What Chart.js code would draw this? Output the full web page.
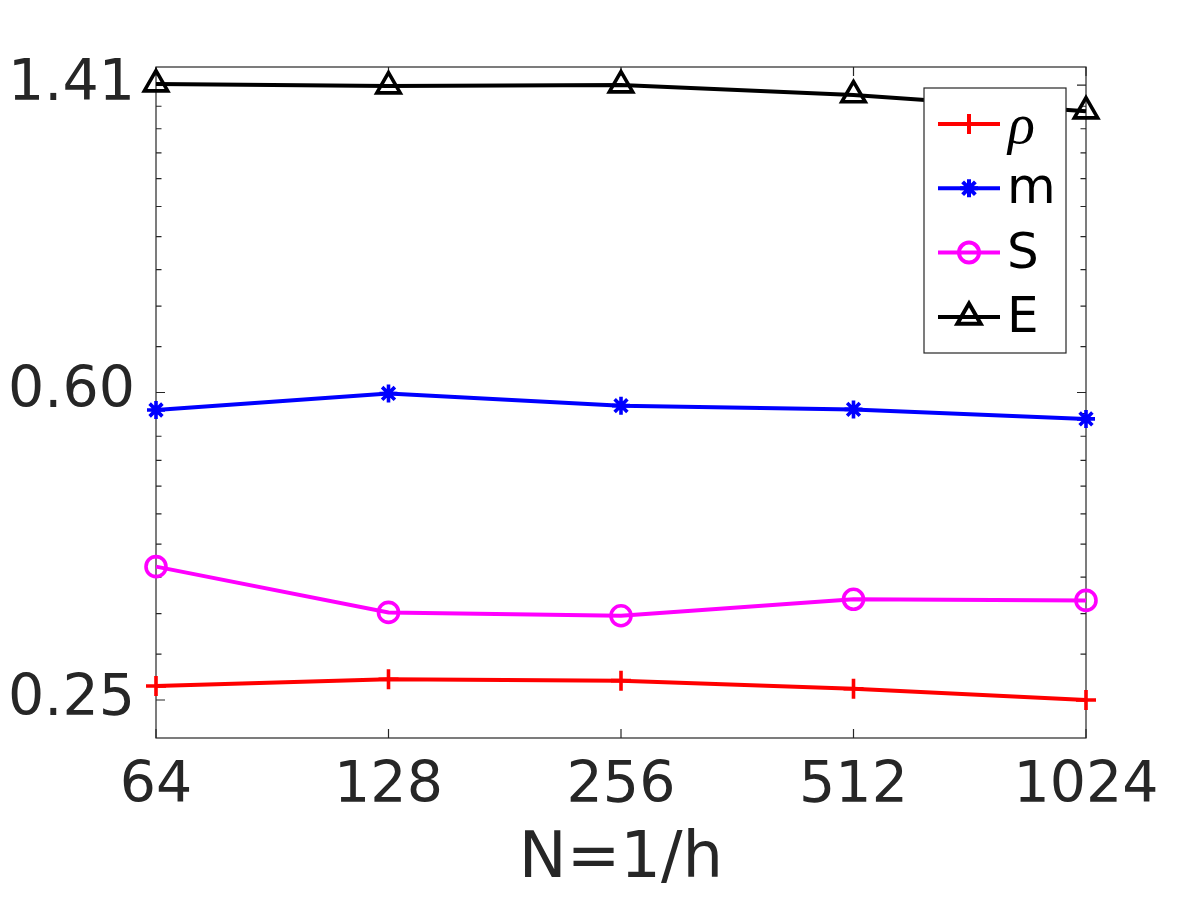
<!DOCTYPE html>
<html>
<head>
<meta charset="utf-8">
<script src="https://cdn.jsdelivr.net/npm/chart.js@4.4.1/dist/chart.umd.min.js"></script>
<style>
  html, body { margin: 0; padding: 0; background: #fff; }
  #wrap { width: 1200px; height: 900px; }
</style>
</head>
<body>
<div id="wrap"><canvas id="myChart" width="1200" height="900"></canvas></div>
<script>
// Grid sizes N = 1/h
const nValues = [64, 128, 256, 512, 1024];
const xTickLabels = ["64", "128", "256", "512", "1024"];

// Values (log-log plot)
const rhoValues = [0.260, 0.265, 0.264, 0.258, 0.250];
const mValues = [0.566, 0.593, 0.573, 0.567, 0.552];
const sValues = [0.364, 0.320, 0.317, 0.332, 0.331];
const eValues = [1.418, 1.410, 1.414, 1.375, 1.314];

// Y tick positions and their printed labels
const yTickValues = [0.25, 0.5946, 1.4142];
const yTickLabels = ["0.25", "0.60", "1.41"];

const seriesNames = ["ρ", "m", "S", "E"];
const seriesColors = ["#ff0000", "#0000ff", "#ff00ff", "#000000"];
const seriesMarkers = ["cross", "star", "circle", "triangle"];
const markerSizes = [10, 9, 10, 13.5];

const axisColor = "#262626";
const font = '"DejaVu Sans", "Liberation Sans", sans-serif';

function toPoints(values) {
    return nValues.map((n, i) => ({ x: n, y: values[i] }));
}

function makeDataset(index, values) {
    return {
        label: seriesNames[index],
        data: toPoints(values),
        borderColor: seriesColors[index],
        borderWidth: 4,
        tension: 0,
        fill: false,
        clip: false,
        pointStyle: seriesMarkers[index],
        pointRadius: markerSizes[index],
        pointHoverRadius: markerSizes[index],
        pointBorderWidth: 3.6,
        pointBorderColor: seriesColors[index],
        pointBackgroundColor: "rgba(0,0,0,0)"
    };
}

// Box and inward ticks, drawn under the data like MATLAB does
const axesBoxPlugin = {
    id: "axesBox",
    beforeDatasetsDraw(chart) {
        const { ctx, chartArea: a, scales } = chart;
        const xs = scales.x, ys = scales.y;
        ctx.save();
        ctx.strokeStyle = axisColor;
        ctx.lineWidth = 1.2;
        ctx.strokeRect(a.left, a.top, a.right - a.left, a.bottom - a.top);

        ctx.beginPath();
        // x major ticks, bottom and top
        nValues.forEach(v => {
            const px = xs.getPixelForValue(v);
            ctx.moveTo(px, a.bottom); ctx.lineTo(px, a.bottom - 9);
            ctx.moveTo(px, a.top); ctx.lineTo(px, a.top + 9);
        });
        // y major ticks, left and right
        yTickValues.forEach(v => {
            const py = ys.getPixelForValue(v);
            ctx.moveTo(a.left, py); ctx.lineTo(a.left + 9, py);
            ctx.moveTo(a.right, py); ctx.lineTo(a.right - 9, py);
        });
        // y minor ticks: ten linear steps between majors
        const minor = [];
        for (let i = 0; i < yTickValues.length - 1; i++) {
            const lo = yTickValues[i], hi = yTickValues[i + 1];
            const step = (hi - lo) / 10;
            for (let k = 1; k < 10; k++) minor.push(lo + k * step);
            if (i === 0) minor.push(lo - step);
            if (i === yTickValues.length - 2) minor.push(hi + step);
        }
        minor.forEach(v => {
            if (v < ys.min || v > ys.max) return;
            const py = ys.getPixelForValue(v);
            ctx.moveTo(a.left, py); ctx.lineTo(a.left + 5.5, py);
            ctx.moveTo(a.right, py); ctx.lineTo(a.right - 5.5, py);
        });
        ctx.stroke();
        ctx.restore();
    }
};

// MATLAB style boxed legend in the upper right corner of the axes
const boxLegendPlugin = {
    id: "boxLegend",
    afterDatasetsDraw(chart) {
        const { ctx, chartArea: a } = chart;
        const w = 142, h = 265;
        const left = a.right - 20 - w;
        const top = a.top + 21;
        ctx.save();
        ctx.fillStyle = "#ffffff";
        ctx.fillRect(left, top, w, h);
        ctx.strokeStyle = axisColor;
        ctx.lineWidth = 1.2;
        ctx.strokeRect(left, top, w, h);

        chart.data.datasets.forEach((ds, i) => {
            const y = top + 36 + i * 64.3;
            ctx.strokeStyle = ds.borderColor;
            ctx.lineWidth = 4;
            ctx.beginPath();
            ctx.moveTo(left + 14, y);
            ctx.lineTo(left + 76, y);
            ctx.stroke();

            ctx.fillStyle = "rgba(0,0,0,0)";
            Chart.helpers.drawPoint(ctx, {
                pointStyle: ds.pointStyle,
                radius: ds.pointRadius,
                rotation: 0,
                borderWidth: 3.6
            }, left + 45, y);

            ctx.fillStyle = "#000000";
            ctx.textAlign = "left";
            ctx.textBaseline = "middle";
            if (i === 0) {
                ctx.font = 'italic 56px "Liberation Serif", "DejaVu Serif", serif';
                ctx.fillText(ds.label, left + 84, y + 4);
            } else {
                ctx.font = "50px " + font;
                ctx.fillText(ds.label, left + 83, y + 2);
            }
        });
        ctx.restore();
    }
};

let chart = null;

function drawChart() {
    const ctx = document.getElementById("myChart").getContext("2d");
    if (chart) {
        chart.destroy();
    }
    chart = new Chart(ctx, {
        type: "line",
        data: {
            datasets: [
                makeDataset(0, rhoValues),
                makeDataset(1, mValues),
                makeDataset(2, sValues),
                makeDataset(3, eValues)
            ]
        },
        options: {
            responsive: false,
            animation: false,
            devicePixelRatio: 1,
            layout: { padding: { left: 0, top: 67, right: 114, bottom: 0 } },
            plugins: {
                legend: { display: false },
                tooltip: { enabled: false }
            },
            scales: {
                x: {
                    type: "logarithmic",
                    min: 64,
                    max: 1024,
                    afterBuildTicks: axis => {
                        axis.ticks = nValues.map(v => ({ value: v }));
                    },
                    afterFit: scale => { scale.height = 162; },
                    grid: { display: false, drawTicks: false },
                    border: { display: false },
                    ticks: {
                        autoSkip: false,
                        maxRotation: 0,
                        padding: 15,
                        color: axisColor,
                        font: { family: font, size: 57 },
                        callback: (value, index) => xTickLabels[index]
                    },
                    title: {
                        display: true,
                        text: "N=1/h",
                        color: axisColor,
                        font: { family: font, size: 64 },
                        padding: { top: 0, bottom: 1 }
                    }
                },
                y: {
                    type: "logarithmic",
                    min: 0.2246,
                    max: 1.488,
                    afterBuildTicks: axis => {
                        axis.ticks = yTickValues.map(v => ({ value: v }));
                    },
                    afterFit: scale => { scale.width = 156; },
                    grid: { display: false, drawTicks: false },
                    border: { display: false },
                    ticks: {
                        autoSkip: false,
                        padding: 21,
                        color: axisColor,
                        font: { family: font, size: 57 },
                        callback: (value, index) => yTickLabels[index]
                    }
                }
            }
        },
        plugins: [axesBoxPlugin, boxLegendPlugin]
    });
}

window.onload = function() {
    drawChart();
};
</script>
</body>
</html>
